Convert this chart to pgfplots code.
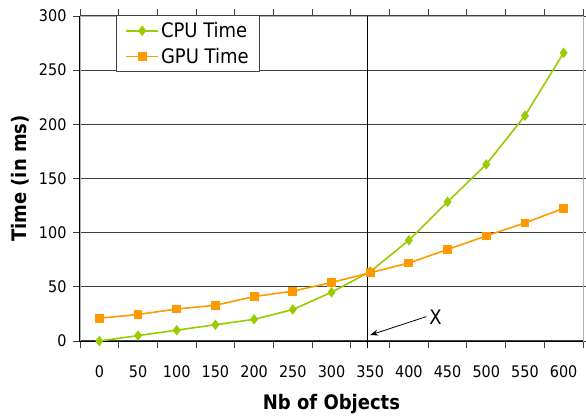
\documentclass[border=0pt]{standalone}
\usepackage{fontspec}
\setmainfont{DejaVu Sans Condensed}
\usepackage{pgfplots}
\pgfplotsset{compat=1.18}
\usetikzlibrary{arrows.meta}
\definecolor{cpugreen}{HTML}{99CC00}
\definecolor{gpuorange}{HTML}{FF9900}
\definecolor{gridgray}{HTML}{404040}

\begin{document}
\begin{tikzpicture}
\begin{axis}[
  at={(0,0)}, anchor=south west,
  scale only axis, width=503pt, height=325pt,
  xmin=-0.5, xmax=12.5, ymin=0, ymax=300,
  clip=false,
  axis line style={gray!60, line width=0.8pt},
  xtick={0,...,12},
  xticklabels={0,50,100,150,200,250,300,350,400,450,500,550,600},
  major x tick style={draw=none},
  minor xtick={-0.5,0.5,...,12.5},
  ytick={0,50,...,300},
  ymajorgrids,
  grid style={gridgray, line width=1.1pt},
  tick align=outside,
  major tick length=7pt, minor tick length=7pt,
  tick style={gridgray, line width=0.9pt},
  /pgf/number format/assume math mode=true,
  ticklabel style={font=\fontsize{16}{16}\selectfont, text=black},
  xticklabel style={yshift=-14pt},
  yticklabel style={xshift=-3pt},
  xlabel={\bfseries Nb of Objects},
  ylabel={\bfseries Time (in ms)},
  label style={font=\fontsize{20}{20}\selectfont},
  xlabel style={at={(axis description cs:0.5,0)}, anchor=center, yshift=-63pt},
  ylabel style={at={(axis description cs:0,0.5)}, anchor=center, yshift=60pt},
  legend style={at={(axis description cs:0.0716,1.003)}, anchor=north west,
    draw=gridgray, line width=0.8pt, font=\fontsize{20}{20}\selectfont,
    inner xsep=9pt, inner ysep=5pt, row sep=5pt},
  legend cell align=left,
  legend image code/.code={
    \draw[#1, mark=none] (0pt,0pt) -- (32pt,0pt);
    \draw[mark repeat=2,mark phase=2,#1, draw=none] plot coordinates {(0pt,0pt) (16pt,0pt) (32pt,0pt)};},
]
\addplot[cpugreen, line width=1.6pt, mark=diamond*, mark size=4pt, mark options={solid}]
  coordinates {(0,0) (1,5) (2,10) (3,15) (4,20) (5,29) (6,45) (7,64) (8,93) (9,128.5) (10,163) (11,208) (12,266)};
\addlegendentry{CPU Time}
\addplot[gpuorange, line width=1.6pt, mark=square*, mark size=3.6pt, mark options={solid}]
  coordinates {(0,21) (1,24.5) (2,29.5) (3,33) (4,41) (5,46) (6,54) (7,63) (8,72) (9,84.5) (10,97) (11,109) (12,122.5)};
\addlegendentry{GPU Time}
\draw[black, line width=1pt] (axis cs:-0.5,300) -- (axis cs:-0.5,0) -- (axis cs:12.5,0);
\draw[black, line width=1.2pt] (axis cs:6.93,-6.5) -- (axis cs:6.93,300);
\draw[black, line width=0.8pt, -{Stealth[length=8pt,width=6pt]}] (axis cs:8.45,22.5) -- (axis cs:7.0,5.5);
\node[anchor=west, font=\fontsize{20}{20}\selectfont, inner sep=1pt] at (axis cs:8.5,21.5) {X};
\end{axis}
\pgfresetboundingbox
\path[use as bounding box] (-80pt,-79pt) rectangle (506pt,341pt);
\end{tikzpicture}
\end{document}
